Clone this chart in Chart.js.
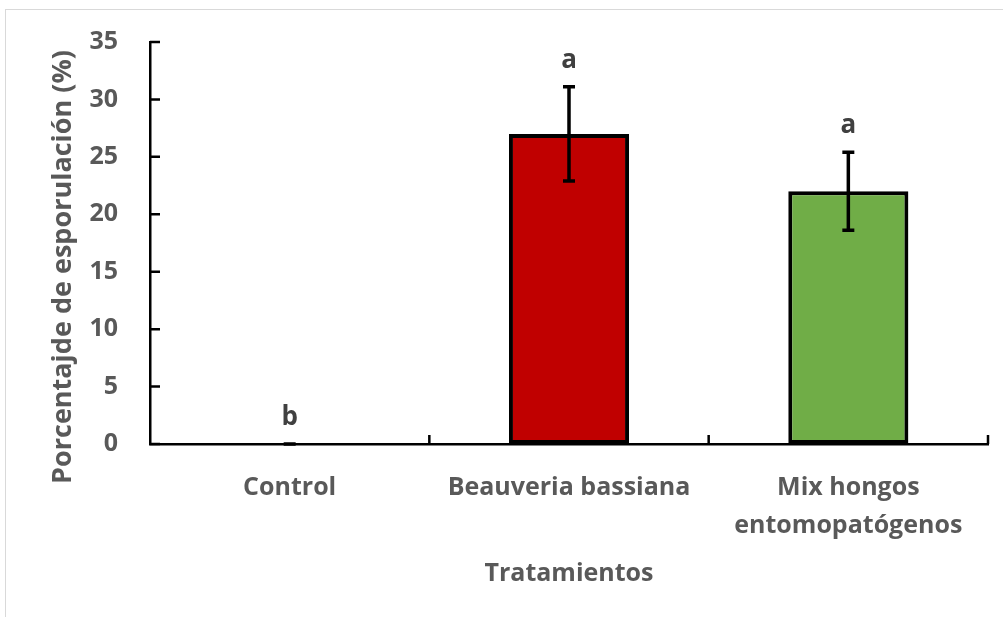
<!DOCTYPE html>
<html>
<head>
<meta charset="utf-8">
<script src="https://cdn.jsdelivr.net/npm/chart.js@4.4.1/dist/chart.umd.min.js"></script>
<style>
  html, body { margin: 0; padding: 0; background: #ffffff; }
  #wrap { position: relative; width: 1003px; height: 617px; }
</style>
</head>
<body>
<div id="wrap"><canvas id="chart" width="1003" height="617"></canvas></div>
<script>
// Treatments and measured sporulation
const categories = ["Control", "Beauveria bassiana", ["Mix hongos", "entomopatógenos"]];
const meanValues = [0, 27, 22];
const errorValues = [0, 4.1, 3.4];
const groupLetters = ["b", "a", "a"];
const barColors = ["#C00000", "#C00000", "#70AD47"];
const yTicks = [0, 5, 10, 15, 20, 25, 30, 35];
const yTitle = "Porcentajde de esporulación (%)";
const xTitle = "Tratamientos";

const FONT = "'Open Sans', Lato, sans-serif";
const TEXT_GRAY = "#595959";

// Light outer frame of the chart area
const framePlugin = {
  id: 'frame',
  beforeDraw(chart) {
    const ctx = chart.ctx;
    ctx.save();
    ctx.fillStyle = '#ffffff';
    ctx.fillRect(0, 0, chart.width, chart.height);
    ctx.strokeStyle = '#d9d9d9';
    ctx.lineWidth = 1;
    ctx.strokeRect(5.5, 9.5, chart.width + 20, chart.height + 20);
    ctx.restore();
  }
};

// Inward tick marks on both axes, plus the rotated value-axis title
const innerTicksPlugin = {
  id: 'innerTicks',
  afterDraw(chart) {
    const ctx = chart.ctx;
    const x = chart.scales.x, y = chart.scales.y;
    ctx.save();
    ctx.strokeStyle = '#000000';
    ctx.lineWidth = 2.5;
    ctx.beginPath();
    yTicks.forEach(v => {
      const py = y.getPixelForValue(v);
      ctx.moveTo(x.left, py);
      ctx.lineTo(x.left + 10, py);
    });
    const n = categories.length;
    for (let i = 1; i <= n; i++) {
      const px = x.left + (x.right - x.left) * i / n;
      ctx.moveTo(px, y.bottom);
      ctx.lineTo(px, y.bottom - 9);
    }
    ctx.stroke();

    ctx.translate(63, 267);
    ctx.rotate(-Math.PI / 2);
    ctx.fillStyle = TEXT_GRAY;
    ctx.font = "bold 27px " + FONT;
    ctx.textAlign = 'center';
    ctx.textBaseline = 'middle';
    ctx.fillText(yTitle, 0, 0);
    ctx.restore();
  }
};

// Error bars and significance letters
const errorBarPlugin = {
  id: 'errorBars',
  afterDatasetsDraw(chart) {
    const ctx = chart.ctx;
    const meta = chart.getDatasetMeta(0);
    const y = chart.scales.y;
    ctx.save();
    ctx.strokeStyle = '#000000';
    ctx.lineWidth = 3.5;
    meta.data.forEach((bar, i) => {
      const cx = bar.x;
      const hi = y.getPixelForValue(meanValues[i] + errorValues[i]);
      const lo = y.getPixelForValue(Math.max(0, meanValues[i] - errorValues[i]));
      const cap = 6;
      ctx.beginPath();
      ctx.moveTo(cx, hi); ctx.lineTo(cx, lo);
      ctx.moveTo(cx - cap, hi); ctx.lineTo(cx + cap, hi);
      ctx.moveTo(cx - cap, lo); ctx.lineTo(cx + cap, lo);
      ctx.stroke();
      ctx.fillStyle = '#404040';
      ctx.font = "bold 26px " + FONT;
      ctx.textAlign = 'center';
      ctx.textBaseline = 'alphabetic';
      ctx.fillText(groupLetters[i], cx, hi - 19);
    });
    ctx.restore();
  }
};

new Chart(document.getElementById('chart'), {
  type: 'bar',
  data: {
    labels: categories,
    datasets: [{
      data: meanValues,
      backgroundColor: barColors,
      borderColor: '#000000',
      borderWidth: 4,
      borderSkipped: false,
      categoryPercentage: 1,
      barPercentage: 0.43
    }]
  },
  options: {
    responsive: false,
    animation: false,
    devicePixelRatio: 1,
    layout: { padding: { left: 0, top: 42, right: 15, bottom: 0 } },
    plugins: {
      legend: { display: false },
      tooltip: { enabled: false }
    },
    scales: {
      x: {
        grid: { display: false, drawTicks: false, tickLength: 0 },
        border: { display: true, color: '#000000', width: 2.5 },
        ticks: {
          color: TEXT_GRAY,
          font: { family: FONT, size: 25, weight: 'bold', lineHeight: 1.55 },
          padding: 24,
          maxRotation: 0,
          autoSkip: false
        },
        title: {
          display: true,
          text: xTitle,
          color: TEXT_GRAY,
          font: { family: FONT, size: 25, weight: 'bold' },
          padding: { top: 0, bottom: 28 }
        },
        afterFit(scale) {
          scale.height = 173;
          scale.paddingLeft = 0;
          scale.paddingRight = 0;
        }
      },
      y: {
        min: 0,
        max: 35,
        afterBuildTicks(scale) { scale.ticks = yTicks.map(v => ({ value: v })); },
        grid: { display: false, drawTicks: false, tickLength: 0 },
        border: { display: true, color: '#000000', width: 2.5 },
        ticks: {
          color: TEXT_GRAY,
          font: { family: FONT, size: 25, weight: 'bold' },
          padding: 32
        },
        title: { display: false, text: yTitle },
        afterFit(scale) {
          scale.width = 150;
          scale.paddingTop = 0;
          scale.paddingBottom = 0;
        }
      }
    }
  },
  plugins: [framePlugin, innerTicksPlugin, errorBarPlugin]
});
</script>
</body>
</html>
